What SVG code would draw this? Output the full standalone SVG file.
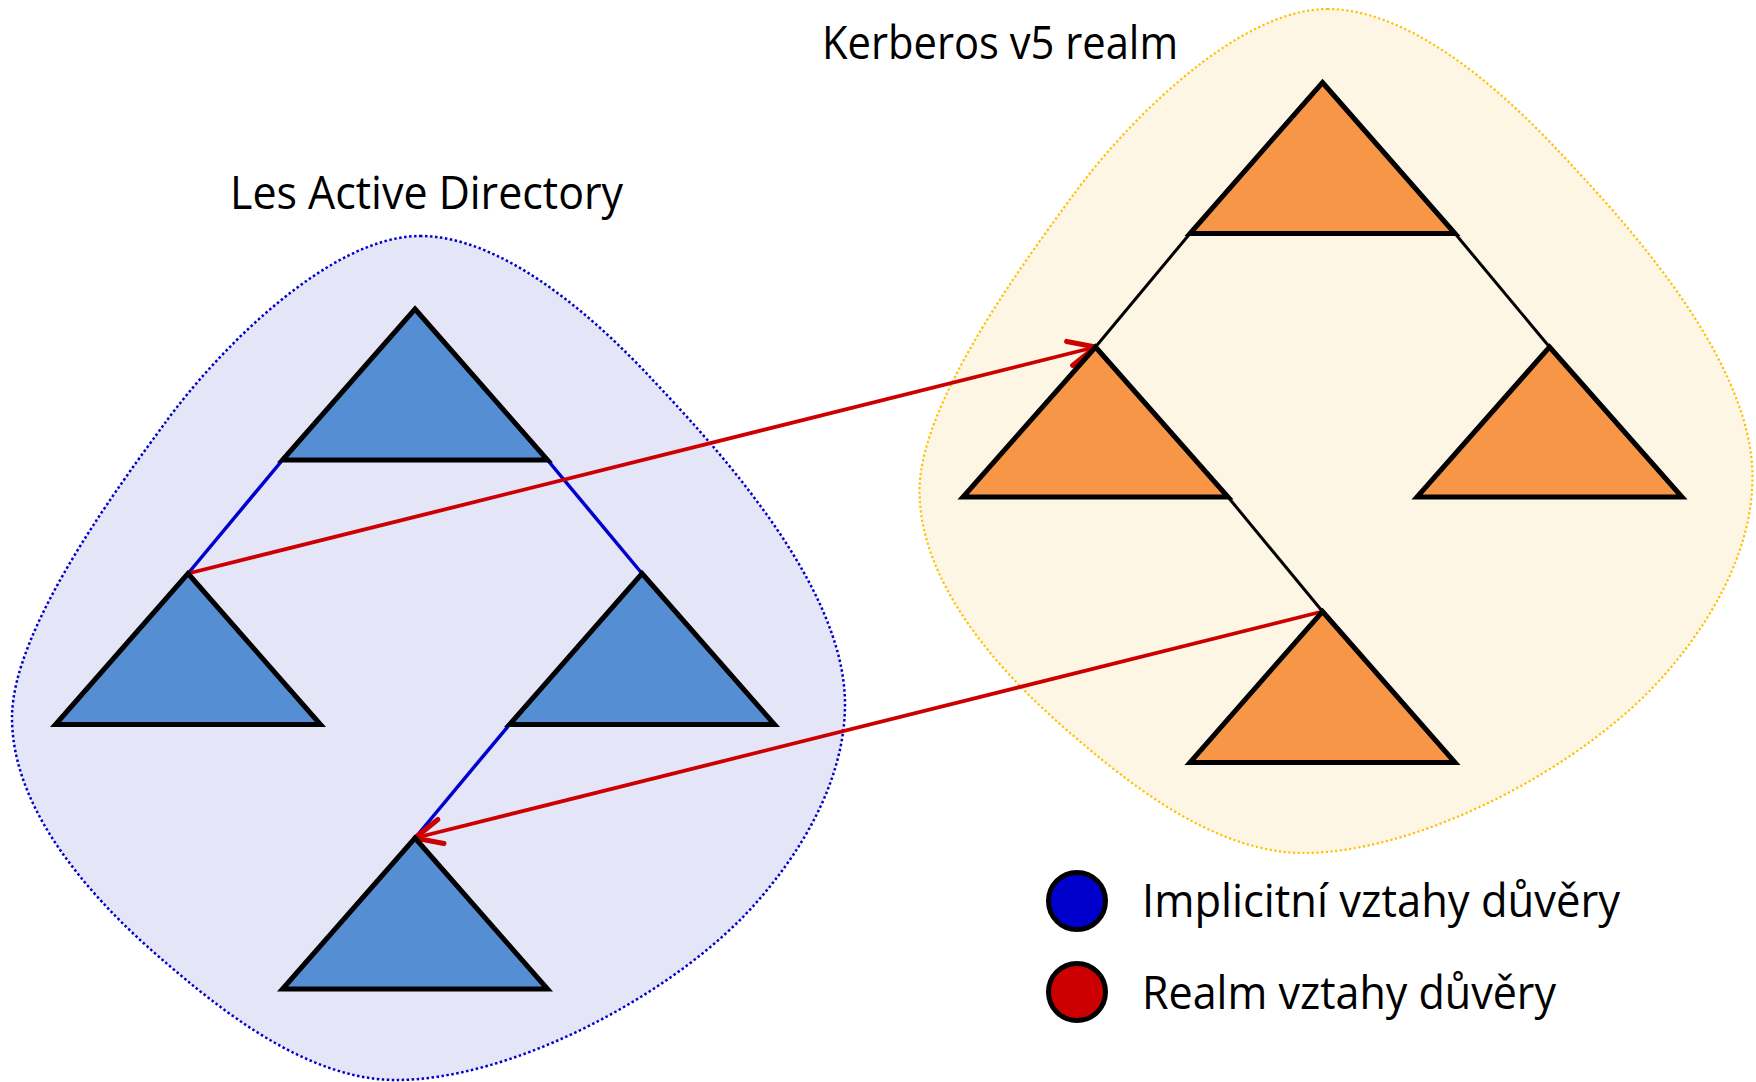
<svg xmlns="http://www.w3.org/2000/svg" width="1756" height="1082" viewBox="0 0 1756 1082">
  <style>
    .lbl { font-family: "Open Sans", "Noto Sans", "Liberation Sans", sans-serif; font-size: 45px; fill: #000; }
    .tri { stroke: #000; stroke-width: 5; stroke-linejoin: miter; stroke-miterlimit: 3; }
    .blue { fill: #568ed4; }
    .orange { fill: #f79646; }
    .impl { stroke: #0000cc; stroke-width: 3.5; fill: none; }
    .kimpl { stroke: #000; stroke-width: 3; fill: none; }
    .realm { stroke: #cc0000; stroke-width: 3.8; fill: none; marker-end: url(#openArrow); }
  </style>
  <defs>
    <marker id="openArrow" markerUnits="userSpaceOnUse" markerWidth="40" markerHeight="40" viewBox="-25 -15 30 30" refX="0" refY="0" orient="auto">
      <path d="M -20,-9.3 L 0,0 L -20,9.3" fill="none" stroke="#cc0000" stroke-width="3.8" stroke-linecap="round" stroke-linejoin="round"/>
    </marker>
  </defs>
  <rect width="1756" height="1082" fill="#ffffff"/>

  <g id="ad-forest">
    <path d="M 420,236 C 500,236 588,311 650,377 C 712,443 845,584 845,704 C 845,794 784,875 742,918 C 658,1003 506,1080 396,1080 C 306,1080 218,1007.5 165,962 C 104,910 12,817.5 12,717.5 C 12,627.5 123.7,479.7 165,423 C 218,350 330,236 420,236 Z" fill="#e5e5f8" stroke="#0000cc" stroke-width="2.5" stroke-dasharray="2.5 2.5"/>
    <text class="lbl" x="230" y="209" textLength="393" lengthAdjust="spacingAndGlyphs">Les Active Directory</text>
  </g>

  <g id="kerberos-realm">
    <path transform="translate(907.5,-227)" d="M 420,236 C 500,236 588,311 650,377 C 712,443 845,584 845,704 C 845,794 784,875 742,918 C 658,1003 506,1080 396,1080 C 306,1080 218,1007.5 165,962 C 104,910 12,817.5 12,717.5 C 12,627.5 123.7,479.7 165,423 C 218,350 330,236 420,236 Z" fill="#fdf6e4" stroke="#ffc000" stroke-width="2.2" stroke-dasharray="2.2 2.5"/>
    <text class="lbl" x="822" y="59" textLength="356" lengthAdjust="spacingAndGlyphs">Kerberos v5 realm</text>
  </g>

  <g id="connectors">
    <line class="impl" x1="282.5" y1="460" x2="188" y2="573.5"/>
    <line class="impl" x1="547.5" y1="460" x2="642" y2="573.5"/>
    <line class="impl" x1="509.5" y1="724.5" x2="415" y2="838"/>
    <line class="kimpl" x1="1190" y1="233.5" x2="1095.5" y2="347"/>
    <line class="kimpl" x1="1455" y1="233.5" x2="1549.5" y2="347"/>
    <line class="kimpl" x1="1228" y1="497" x2="1322.5" y2="611.5"/>
    <line class="realm" x1="188" y1="573.5" x2="1095.5" y2="347"/>
    <line class="realm" x1="1322.5" y1="611.5" x2="415" y2="838"/>
  </g>

  <g id="ad-root"><polygon class="tri blue" points="415,309 547.5,460 282.5,460"/></g>
  <g id="ad-left"><polygon class="tri blue" points="188,573.5 320.5,724.5 55.5,724.5"/></g>
  <g id="ad-right"><polygon class="tri blue" points="642,573.5 774.5,724.5 509.5,724.5"/></g>
  <g id="ad-bottom"><polygon class="tri blue" points="415,838 547.5,989 282.5,989"/></g>

  <g id="k-root"><polygon class="tri orange" points="1322.5,82.5 1455,233.5 1190,233.5"/></g>
  <g id="k-left"><polygon class="tri orange" points="1095.5,347 1228,497 963,497"/></g>
  <g id="k-right"><polygon class="tri orange" points="1549.5,347 1682,497 1417,497"/></g>
  <g id="k-bottom"><polygon class="tri orange" points="1322.5,611.5 1455,762.5 1190,762.5"/></g>

  <g id="legend-implicit">
    <circle cx="1077" cy="901" r="28.5" fill="#0000cc" stroke="#000" stroke-width="5"/>
    <text class="lbl" x="1142" y="917" textLength="478" lengthAdjust="spacingAndGlyphs">Implicitní vztahy důvěry</text>
  </g>
  <g id="legend-realm">
    <circle cx="1077" cy="992" r="28.5" fill="#cc0000" stroke="#000" stroke-width="5"/>
    <text class="lbl" x="1142" y="1008.5" textLength="414" lengthAdjust="spacingAndGlyphs">Realm vztahy důvěry</text>
  </g>
</svg>
